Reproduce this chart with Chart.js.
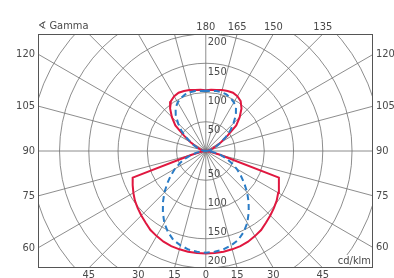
<!DOCTYPE html>
<html>
<head>
<meta charset="utf-8">
<script src="https://cdn.jsdelivr.net/npm/chart.js@4.4.1/dist/chart.umd.min.js"></script>
<style>
  html, body { margin: 0; padding: 0; background: #fff; }
  canvas { display: block; }
</style>
</head>
<body>
<canvas id="ldc" width="394" height="278"></canvas>
<script>
// gamma angles (deg) and luminous intensity in cd/klm, C0/C180 plane (red) and C90/C270 plane (blue)
const gammas = [0, 5, 10, 15, 20, 25, 30, 35, 40, 45, 50, 55, 60, 65, 70, 75, 80, 85, 90,
                95, 100, 105, 110, 115, 120, 125, 130, 135, 140, 145, 150, 155, 160, 165, 170, 175, 180];
const redValues = [175, 175, 175, 174, 173, 171, 168, 165, 160, 156, 152, 148, 143, 138, 133, 25, 8, 3, 1,
                   3, 5, 8, 13, 20, 30, 45, 68, 82, 95, 104, 108, 110, 109, 108, 106, 105, 104];
const blueValues = [174, 173, 171, 167, 162, 153, 142, 128, 114, 100, 86, 73, 61, 49, 37, 26, 16, 7, 1,
                    3, 6, 10, 15, 22, 30, 42, 55, 67, 80, 90, 96, 100, 103, 104, 104, 103, 103];

const rings = [50, 100, 150, 200, 250, 300, 350];
const ringLabels = [50, 100, 150, 200];
const topAngles = [180, 165, 150, 135];
const sideAngles = [120, 105, 90, 75, 60];
const bottomAngles = [45, 30, 15, 0];

// left half goes 180 -> 0, right half 0 -> 180
function toPoints(values) {
  const pts = [];
  for (let i = gammas.length - 1; i >= 0; i--) {
    const t = gammas[i] * Math.PI / 180;
    pts.push({ x: -values[i] * Math.sin(t), y: -values[i] * Math.cos(t) });
  }
  for (let i = 1; i < gammas.length; i++) {
    const t = gammas[i] * Math.PI / 180;
    pts.push({ x: values[i] * Math.sin(t), y: -values[i] * Math.cos(t) });
  }
  return pts;
}

const FONT = "11px 'Liberation Sans Narrow', 'DejaVu Sans Condensed', sans-serif";
const TXT = '#4a4a4a';

const polarGrid = {
  id: 'polarGrid',
  beforeDatasetsDraw(chart) {
    const { ctx, chartArea: a, scales: { x, y } } = chart;
    const cx = x.getPixelForValue(0), cy = y.getPixelForValue(0);
    const k = (y.getPixelForValue(0) - y.getPixelForValue(100)) / 100;

    ctx.save();
    ctx.beginPath();
    ctx.rect(a.left, a.top, a.right - a.left, a.bottom - a.top);
    ctx.clip();
    ctx.strokeStyle = '#707070';
    ctx.lineWidth = 0.8;
    rings.forEach(r => {
      ctx.beginPath();
      ctx.arc(cx, cy, r * k, 0, Math.PI * 2);
      ctx.stroke();
    });
    for (let g = 0; g < 360; g += 15) {
      const t = g * Math.PI / 180;
      ctx.beginPath();
      ctx.moveTo(cx, cy);
      ctx.lineTo(cx + Math.sin(t) * 1000, cy + Math.cos(t) * 1000);
      ctx.stroke();
    }
    ctx.restore();

    ctx.save();
    ctx.strokeStyle = '#555';
    ctx.lineWidth = 1;
    ctx.strokeRect(a.left + 0.5, a.top + 0.5, a.right - a.left - 1, a.bottom - a.top - 1);

    ctx.font = FONT;
    ctx.fillStyle = TXT;

    // intensity labels along the vertical axis
    ctx.textAlign = 'left';
    ringLabels.forEach(r => {
      ctx.textBaseline = 'top';
      ctx.fillText(String(r), cx + 2, cy - r * k + 3);
      ctx.textBaseline = 'bottom';
      ctx.fillText(String(r), cx + 2, cy + r * k - 1);
    });

    // angle labels where the radial lines meet the frame
    ctx.textBaseline = 'middle';
    ctx.textAlign = 'center';
    topAngles.forEach(g => {
      const t = g * Math.PI / 180;
      const px = cx + (cy - a.top) * Math.sin(t) / -Math.cos(t);
      ctx.fillText(String(g), px, a.top - 7);
    });
    bottomAngles.forEach(g => {
      const d = (a.bottom - cy) * Math.tan(g * Math.PI / 180);
      ctx.fillText(String(g), cx + d, a.bottom + 7);
      if (g) ctx.fillText(String(g), cx - d, a.bottom + 7);
    });
    sideAngles.forEach(g => {
      const t = g * Math.PI / 180;
      ctx.textAlign = 'right';
      ctx.fillText(String(g), a.left - 3, cy + (cx - a.left) * Math.cos(t) / Math.sin(t));
      ctx.textAlign = 'left';
      ctx.fillText(String(g), a.right + 3, cy + (a.right - cx) * Math.cos(t) / Math.sin(t));
    });

    ctx.textAlign = 'left';
    ctx.fillText('\u2222 Gamma', a.left, a.top - 8);

    ctx.textAlign = 'right';
    const w = ctx.measureText('cd/klm').width;
    ctx.fillStyle = '#fff';
    ctx.fillRect(a.right - w - 3, a.bottom - 13, w + 2, 12);
    ctx.fillStyle = TXT;
    ctx.fillText('cd/klm', a.right - 2, a.bottom - 7);
    ctx.restore();
  }
};

new Chart(document.getElementById('ldc'), {
  type: 'scatter',
  data: {
    datasets: [
      {
        label: 'C90 - C270',
        data: toPoints(blueValues),
        showLine: true,
        borderColor: '#2a7cc6',
        borderWidth: 2,
        borderDash: [6, 4],
        pointRadius: 0,
        order: 0
      },
      {
        label: 'C0 - C180',
        data: toPoints(redValues),
        showLine: true,
        borderColor: '#e0173f',
        borderWidth: 2,
        pointRadius: 0,
        order: 1
      }
    ]
  },
  options: {
    responsive: false,
    animation: false,
    layout: { padding: { left: 38, right: 21, top: 34, bottom: 10 } },
    scales: {
      x: { display: false, min: -287, max: 286 },
      y: { display: false, min: -200, max: 200 }
    },
    plugins: { legend: { display: false }, tooltip: { enabled: false } }
  },
  plugins: [polarGrid]
});
</script>
</body>
</html>
